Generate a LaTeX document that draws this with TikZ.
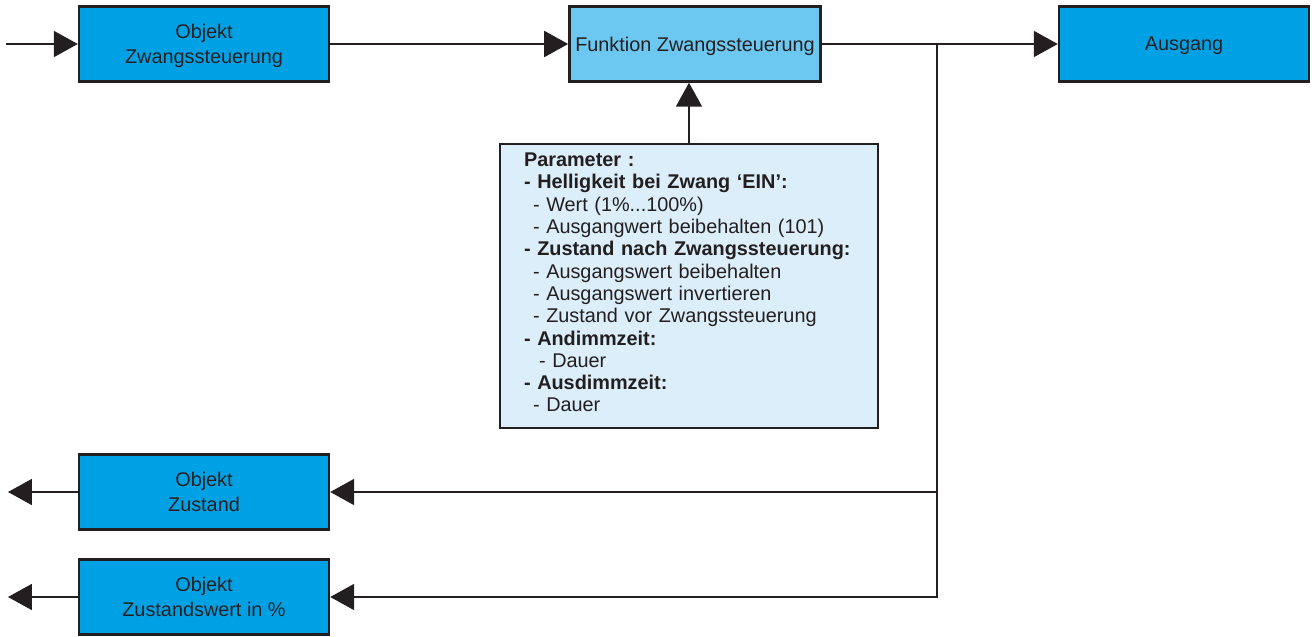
\documentclass[tikz,border=0pt]{standalone}
\usepackage{fontspec}
\setmainfont{Liberation Sans}
\usetikzlibrary{arrows.meta,positioning}
\definecolor{objblue}{HTML}{00A1E4}
\definecolor{funkblue}{HTML}{6DC8F1}
\definecolor{parblue}{HTML}{DCEEF9}
\definecolor{dunkel}{HTML}{231F20}
\tikzset{
    pfeil/.style={-{Triangle[length=0.48cm,width=0.52cm]}},
    block/.style ={rectangle, draw=dunkel, line width=1.4pt, fill=objblue, text=dunkel,
                   minimum width=5cm, minimum height=1.5cm, align=center, text depth=0pt,
                   font=\fontsize{11.3}{14}\selectfont},
    parblock/.style={rectangle, draw=dunkel, line width=1.4pt, fill=parblue, text=dunkel,
                   text width=6.6cm, inner xsep=0.48cm, minimum height=5.68cm, align=left,
                   font=\fontsize{11.3}{12.7}\selectfont}
}

\begin{document}
\begin{tikzpicture}[x=0.02cm,y=-0.02cm,pfeil,line width=1.1pt,draw=dunkel]
    \useasboundingbox (0,0) rectangle (1312,636);

    %%Nodes
    \node[block] (objzw) at (204,44) {Objekt\\Zwangssteuerung};
    \node[block, fill=funkblue] (funktion) at (695,44) {Funktion Zwangssteuerung};
    \node[block] (ausgang) at (1184,44) {Ausgang};
    \node[block] (zustand) at (204,492) {Objekt\\Zustand};
    \node[block] (zustwert) at (204,597) {Objekt\\Zustandswert in \%};
    \node[parblock] (param) at (689,286) {%
        \textbf{Parameter :}\\
        \textbf{- Helligkeit bei Zwang ‘EIN’:}\\
        \hspace*{0.18cm}- Wert (1\%...100\%)\\
        \hspace*{0.18cm}- Ausgangwert beibehalten (101)\\
        \textbf{- Zustand nach Zwangssteuerung:}\\
        \hspace*{0.18cm}- Ausgangswert beibehalten\\
        \hspace*{0.18cm}- Ausgangswert invertieren\\
        \hspace*{0.18cm}- Zustand vor Zwangssteuerung\\
        \textbf{- Andimmzeit:}\\
        \hspace*{0.3cm}- Dauer\\
        \textbf{- Ausdimmzeit:}\\
        \hspace*{0.18cm}- Dauer\par\vspace*{0.14cm}};

    \coordinate (ein) at (6,44);
    \coordinate (knoten) at (937,44);
    \coordinate (aus1) at (8,492);
    \coordinate (aus2) at (8,597);

    % Directed edge
    \draw (ein) -- (objzw);
    \draw (objzw) -- (funktion);
    \draw[-] (funktion) -- (knoten);
    \draw (knoten) -- (ausgang);
    \draw (param.north) -- (param.north |- funktion.south);
    \draw (knoten) |- (zustand);
    \draw (knoten) |- (zustwert);
    \draw (zustand) -- (aus1);
    \draw (zustwert) -- (aus2);
\end{tikzpicture}
\end{document}
